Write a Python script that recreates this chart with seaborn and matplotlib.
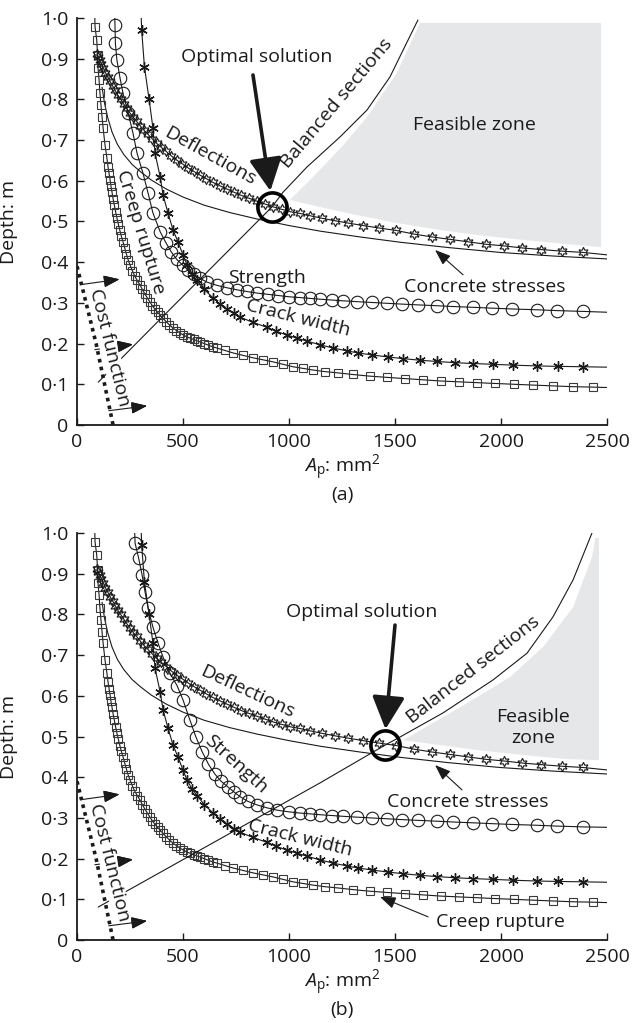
import matplotlib
matplotlib.use("Agg")
import matplotlib.pyplot as plt
import seaborn as sns

# values: A_p in mm2, depth in m
creep_x = [84, 85, 93, 97, 99, 104, 108, 113, 118, 123,
           132, 141, 146, 151, 156, 160, 165, 170, 176, 182,
           188, 195, 202, 209, 217, 225, 233, 241, 250, 261,
           272, 284, 297, 308, 320, 332, 344, 355, 367, 380,
           392, 406, 420, 436, 453, 469, 485, 502, 519, 535,
           550, 565, 580, 600, 620, 640, 660, 698, 736, 783,
           830, 878, 925, 972, 1019, 1066, 1113, 1170, 1230, 1300,
           1380, 1460, 1545, 1630, 1715, 1800, 1885, 1970, 2060, 2150,
           2245, 2340, 2434, 2500]
creep_y = [1.0, 0.978, 0.946, 0.909, 0.877, 0.848, 0.816, 0.786, 0.757, 0.73,
           0.688, 0.656, 0.635, 0.618, 0.602, 0.587, 0.572, 0.556, 0.54, 0.524,
           0.509, 0.493, 0.478, 0.464, 0.45, 0.435, 0.42, 0.406, 0.393, 0.379,
           0.366, 0.355, 0.344, 0.333, 0.322, 0.312, 0.302, 0.293, 0.285, 0.277,
           0.27, 0.262, 0.254, 0.246, 0.238, 0.232, 0.226, 0.221, 0.216, 0.213,
           0.21, 0.207, 0.204, 0.2, 0.196, 0.192, 0.189, 0.183, 0.177, 0.171,
           0.165, 0.16, 0.155, 0.149, 0.143, 0.139, 0.135, 0.131, 0.128, 0.124,
           0.12, 0.117, 0.114, 0.111, 0.108, 0.106, 0.104, 0.102, 0.1, 0.098,
           0.096, 0.094, 0.093, 0.092]

defl_x = [94, 100, 107, 115, 124, 134, 145, 156, 168, 180,
          193, 206, 220, 234, 249, 265, 281, 298, 316, 335,
          355, 376, 398, 421, 445, 470, 496, 523, 551, 580,
          610, 641, 673, 706, 740, 775, 811, 848, 886, 925,
          965, 1006, 1050, 1100, 1155, 1215, 1280, 1350, 1425, 1505,
          1590, 1675, 1760, 1845, 1930, 2015, 2100, 2190, 2290, 2387,
          2500]
defl_y = [0.912, 0.905, 0.896, 0.887, 0.877, 0.866, 0.855, 0.844, 0.833, 0.822,
          0.81, 0.8, 0.789, 0.778, 0.767, 0.756, 0.746, 0.735, 0.724, 0.714,
          0.703, 0.692, 0.682, 0.672, 0.661, 0.651, 0.642, 0.632, 0.623, 0.614,
          0.605, 0.596, 0.588, 0.58, 0.572, 0.564, 0.557, 0.55, 0.543, 0.536,
          0.53, 0.524, 0.52, 0.514, 0.508, 0.502, 0.496, 0.49, 0.484, 0.478,
          0.469, 0.462, 0.456, 0.45, 0.444, 0.44, 0.435, 0.431, 0.427, 0.424,
          0.418]

crack_x = [303, 305, 318, 340, 358, 368, 392, 406, 429, 453,
           476, 500, 519, 542, 566, 600, 642, 675, 708, 740,
           769, 830, 896, 940, 991, 1040, 1085, 1146, 1208, 1274,
           1325, 1392, 1467, 1538, 1618, 1698, 1783, 1868, 1962, 2057,
           2170, 2269, 2387, 2500]
crack_y = [1.0, 0.97, 0.88, 0.8, 0.73, 0.668, 0.61, 0.565, 0.521, 0.479,
           0.45, 0.418, 0.393, 0.372, 0.355, 0.333, 0.312, 0.297, 0.284, 0.274,
           0.265, 0.252, 0.24, 0.23, 0.221, 0.213, 0.206, 0.197, 0.189, 0.182,
           0.177, 0.172, 0.167, 0.163, 0.159, 0.156, 0.153, 0.151, 0.149, 0.147,
           0.145, 0.144, 0.143, 0.142]

concrete_x = [118, 130, 145, 165, 190, 220, 260, 300, 350, 420, 500,
              600, 720, 850, 1000, 1150, 1335, 1524, 1750, 1995, 2250, 2500]
concrete_y = [0.83, 0.79, 0.755, 0.72, 0.69, 0.665, 0.64, 0.622, 0.602, 0.58, 0.56,
              0.54, 0.522, 0.506, 0.49, 0.476, 0.462, 0.449, 0.436, 0.424, 0.415, 0.408]

cost_x = [0, 90, 170]
cost_y = [0.39, 0.2, 0.0]

# panel (a)
strength_a_x = [178, 179, 181, 188, 203, 217, 241, 264, 283, 311,
                335, 358, 392, 420, 445, 470, 500, 525, 550, 580,
                613, 660, 708, 755, 800, 850, 900, 950, 1000, 1052,
                1099, 1146, 1201, 1256, 1319, 1390, 1461, 1531, 1610, 1697,
                1775, 1870, 1957, 2052, 2170, 2264, 2387, 2500]
strength_a_y = [1.0, 0.983, 0.938, 0.897, 0.852, 0.815, 0.767, 0.717, 0.668, 0.619,
                0.57, 0.521, 0.475, 0.447, 0.425, 0.407, 0.392, 0.38, 0.37, 0.36,
                0.351, 0.343, 0.337, 0.332, 0.328, 0.324, 0.321, 0.318, 0.315, 0.313,
                0.311, 0.309, 0.307, 0.305, 0.303, 0.301, 0.299, 0.297, 0.295, 0.293,
                0.291, 0.289, 0.287, 0.285, 0.283, 0.281, 0.279, 0.277]
balanced_a_x = [100, 212, 406, 920, 972, 1085, 1241, 1368, 1476, 1538, 1608]
balanced_a_y = [0.105, 0.165, 0.267, 0.536, 0.572, 0.634, 0.708, 0.774, 0.855, 0.921, 0.995]
feasible_a_x = [1005, 1132, 1260, 1368, 1509, 1618, 2472, 2472,
                2300, 2100, 1900, 1700, 1500, 1300, 1150]
feasible_a_y = [0.553, 0.619, 0.69, 0.757, 0.865, 0.988, 0.988, 0.437,
                0.445, 0.455, 0.466, 0.48, 0.497, 0.518, 0.535]
optimum_a = (920, 0.536)

# panel (b)
strength_b_x = [272, 274, 290, 307, 321, 335, 358, 382, 406, 439,
                472, 500, 533, 560, 590, 620, 650, 680, 710, 740,
                770, 805, 849, 895, 945, 1000, 1052, 1099, 1146, 1201,
                1256, 1319, 1390, 1461, 1531, 1610, 1697, 1775, 1870, 1957,
                2052, 2170, 2264, 2387, 2500]
strength_b_y = [1.0, 0.975, 0.94, 0.897, 0.855, 0.816, 0.769, 0.73, 0.695, 0.655,
                0.625, 0.59, 0.54, 0.5, 0.463, 0.432, 0.408, 0.39, 0.377, 0.364,
                0.352, 0.341, 0.332, 0.325, 0.319, 0.315, 0.312, 0.31, 0.308, 0.306,
                0.304, 0.302, 0.3, 0.298, 0.296, 0.294, 0.292, 0.29, 0.288, 0.286,
                0.284, 0.282, 0.28, 0.278, 0.277]
balanced_b_x = [100, 1146, 1453, 1524, 1726, 1962, 2123, 2245, 2340, 2429]
balanced_b_y = [0.081, 0.386, 0.479, 0.499, 0.558, 0.639, 0.705, 0.794, 0.885, 1.0]
feasible_b_x = [1538, 1807, 2042, 2198, 2340, 2429, 2445, 2462, 2462,
                2300, 2100, 1900, 1700]
feasible_b_y = [0.491, 0.572, 0.646, 0.72, 0.818, 0.941, 0.988, 0.988, 0.442,
                0.445, 0.455, 0.466, 0.48]
optimum_b = (1453, 0.479)

x_ticks = [0, 500, 1000, 1500, 2000, 2500]
y_ticks = [0, 0.1, 0.2, 0.3, 0.4, 0.5, 0.6, 0.7, 0.8, 0.9, 1.0]
y_tick_labels = ["0", "0·1", "0·2", "0·3", "0·4", "0·5", "0·6", "0·7", "0·8", "0·9", "1·0"]

sns.set_theme(style="ticks")
plt.rcParams["font.family"] = ["Open Sans", "DejaVu Sans"]
plt.rcParams["mathtext.fontset"] = "custom"
plt.rcParams["mathtext.rm"] = "Open Sans"
plt.rcParams["mathtext.it"] = "Open Sans:italic"

FS = 14
INK = "#1a1a1a"


def curve(ax, x, y, marker=None, ms=6, every=None, edge=INK, mew=0.8):
    kw = {}
    if marker is not None:
        kw = dict(marker=marker, markersize=ms, markerfacecolor="none",
                  markeredgecolor=edge, markeredgewidth=mew, markevery=every)
    sns.lineplot(x=x, y=y, ax=ax, color=INK, lw=0.8, sort=False,
                 estimator=None, **kw)


def arrow(ax, tail, head, lw=0.8, scale=12, zorder=3,
          style="-|>,head_length=0.8,head_width=0.3"):
    ax.annotate("", xy=head, xytext=tail, zorder=zorder,
                arrowprops=dict(arrowstyle=style, color=INK, lw=lw,
                                mutation_scale=scale, shrinkA=0, shrinkB=0))


def label(ax, x, y, s, rot=0, size=FS, **kw):
    ax.text(x, y, s, rotation=rot, rotation_mode="anchor", ha="center",
            va="center", fontsize=size, color=INK, **kw)


def panel(ax, strength_x, strength_y, bal_x, bal_y, feas_x, feas_y, optimum, tag):
    ax.fill(feas_x, feas_y, color="#e6e7e8", lw=0, zorder=0)

    curve(ax, concrete_x, concrete_y)
    curve(ax, creep_x, creep_y, marker="s", ms=6.3, every=slice(1, -1), edge="#3a3a3a")
    curve(ax, defl_x, defl_y, marker=(6, 1, 0), ms=7.5, every=slice(0, -1))
    curve(ax, strength_x, strength_y, marker="o", ms=9, every=slice(1, -1))
    curve(ax, crack_x, crack_y, marker=(6, 2, 0), ms=7.5, every=slice(1, -1), mew=1.0)
    curve(ax, bal_x, bal_y)
    sns.lineplot(x=cost_x, y=cost_y, ax=ax, color=INK, lw=2.6, sort=False,
                 estimator=None, linestyle=(0, (1, 1.2)), zorder=7)

    # direction of decreasing cost: shafts go under the label, heads stay on top
    for tail, head in [((20, 0.345), (200, 0.358)),
                       ((84, 0.185), (264, 0.198)),
                       ((150, 0.035), (330, 0.047))]:
        arrow(ax, tail, head, zorder=2)
        near = (head[0] - 0.2 * (head[0] - tail[0]), head[1] - 0.2 * (head[1] - tail[1]))
        arrow(ax, near, head, zorder=7)
    label(ax, 151, 0.19, "Cost function", rot=-76, zorder=5,
          bbox=dict(facecolor="white", edgecolor="none", pad=0.2))

    ax.plot(*optimum, marker="o", markersize=21, markerfacecolor="none",
            markeredgecolor="black", markeredgewidth=2.6, zorder=6)

    ax.set_xlim(0, 2500)
    ax.set_ylim(0, 1.0)
    ax.set_xticks(x_ticks)
    ax.set_xticklabels([str(t) for t in x_ticks])
    ax.set_yticks(y_ticks)
    ax.set_yticklabels(y_tick_labels)
    ax.tick_params(direction="in", length=5, width=1, labelsize=FS, pad=6,
                   colors=INK)
    for side in ["left", "bottom"]:
        ax.spines[side].set_linewidth(1.3)
        ax.spines[side].set_color(INK)
    sns.despine(ax=ax)
    ax.set_xlabel("$A_\\mathrm{p}$: mm$^2$", fontsize=FS, color=INK, labelpad=1)
    ax.set_ylabel("Depth: m", fontsize=FS, color=INK)
    ax.yaxis.set_label_coords(-0.111, 0.5)
    ax.text(0.5, -0.172, tag, transform=ax.transAxes, ha="center", va="center",
            fontsize=FS, color=INK)


fig = plt.figure(figsize=(6.35, 10.23), dpi=100)
ax1 = fig.add_axes([0.1213, 0.5846, 0.8346, 0.3978])
ax2 = fig.add_axes([0.1213, 0.0811, 0.8346, 0.3978])

# ---- (a) ----
panel(ax1, strength_a_x, strength_a_y, balanced_a_x, balanced_a_y,
      feasible_a_x, feasible_a_y, optimum_a, "(a)")
label(ax1, 849, 0.904, "Optimal solution")
arrow(ax1, (830, 0.86), (912, 0.575), lw=2.6, scale=20,
      style="-|>,head_length=1.0,head_width=0.5")
label(ax1, 627, 0.66, "Deflections", rot=-29)
label(ax1, 1226, 0.79, "Balanced sections", rot=50)
label(ax1, 1877, 0.737, "Feasible zone")
label(ax1, 1925, 0.339, "Concrete stresses")
arrow(ax1, (1821, 0.369), (1689, 0.43))
label(ax1, 896, 0.361, "Strength")
label(ax1, 1042, 0.263, "Crack width", rot=-14)
label(ax1, 297, 0.474, "Creep rupture", rot=-73)

# ---- (b) ----
panel(ax2, strength_b_x, strength_b_y, balanced_b_x, balanced_b_y,
      feasible_b_x, feasible_b_y, optimum_b, "(b)")
label(ax2, 1344, 0.806, "Optimal solution")
arrow(ax2, (1500, 0.774), (1455, 0.518), lw=2.6, scale=20,
      style="-|>,head_length=1.0,head_width=0.5")
label(ax2, 802, 0.609, "Deflections", rot=-25)
label(ax2, 1868, 0.663, "Balanced sections", rot=38)
label(ax2, 2151, 0.523, "Feasible\nzone", linespacing=1.2)
label(ax2, 1844, 0.339, "Concrete stresses")
arrow(ax2, (1816, 0.369), (1689, 0.43))
label(ax2, 750, 0.432, "Strength", rot=-42)
label(ax2, 1052, 0.251, "Crack width", rot=-14)
label(ax2, 1995, 0.044, "Creep rupture")
arrow(ax2, (1656, 0.057), (1429, 0.106))

fig.savefig("out.png", dpi=100)
